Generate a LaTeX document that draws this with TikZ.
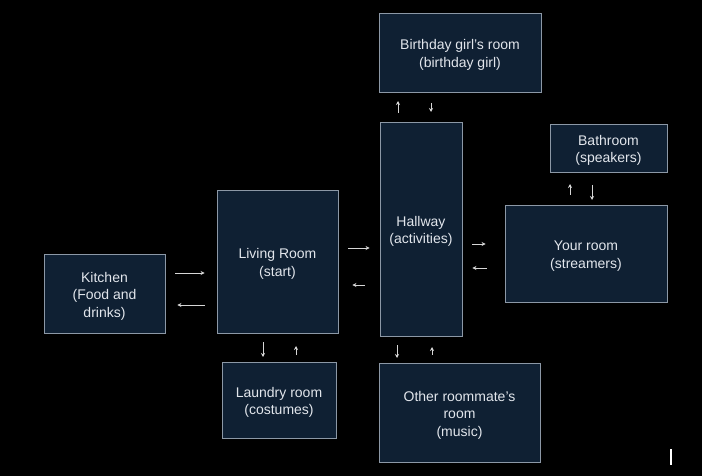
\documentclass[tikz,border=0pt]{standalone}
\usepackage{fontspec}
\setmainfont{Liberation Sans}
\usetikzlibrary{arrows.meta}
\definecolor{boxfill}{HTML}{0F2033}
\definecolor{boxline}{HTML}{8C98A6}
\definecolor{txt}{HTML}{E2E6EC}
\definecolor{arrcol}{HTML}{D6D6D6}
\newcommand\lowerstrut{\rule{0pt}{15pt}}
\tikzset{
  room/.style={draw=boxline, line width=0.9pt, fill=boxfill, text=txt,
    align=center, inner sep=2pt,
    font=\fontsize{14}{17.5}\selectfont},
  arr/.style={draw=arrcol, line width=0.9pt, -{Stealth[length=4pt,width=4pt]}}
}
\begin{document}
\begin{tikzpicture}[x=1pt,y=-1pt]
\fill[black] (0,0) rectangle (702,476);
\useasboundingbox (0,0) rectangle (702,476);

\node[room, minimum width=121pt, minimum height=79pt] (kit) at (104.5,293.5) {\lowerstrut Kitchen\\(Food and\\drinks)};
\node[room, minimum width=121pt, minimum height=143pt] (liv) at (277.5,261.5) {\lowerstrut Living Room\\(start)};
\node[room, minimum width=114pt, minimum height=76pt] (lau) at (279,400) {\lowerstrut Laundry room\\(costumes)};
\node[room, minimum width=82pt, minimum height=214pt] (hal) at (421,229) {\lowerstrut Hallway\\(activities)};
\node[room, minimum width=162pt, minimum height=79pt] (bir) at (460,52.5) {\lowerstrut Birthday girl’s room\\(birthday girl)};
\node[room, minimum width=161pt, minimum height=99pt] (oth) at (459.5,412.5) {\lowerstrut Other roommate’s\\room\\(music)};
\node[room, minimum width=117pt, minimum height=48pt] (bat) at (608.5,148) {\lowerstrut Bathroom\\(speakers)};
\node[room, minimum width=162pt, minimum height=97pt] (you) at (586,253.5) {\lowerstrut Your room\\(streamers)};

% Kitchen <-> Living
\draw[arr] ([xshift=10]kit.east |- 0,273) -- ([xshift=-12]liv.west |- 0,273);
\draw[arr] ([xshift=-12]liv.west |- 0,305) -- ([xshift=12]kit.east |- 0,305);
% Living <-> Hallway
\draw[arr] ([xshift=10]liv.east |- 0,248) -- ([xshift=-10]hal.west |- 0,248);
\draw[arr] ([xshift=-15]hal.west |- 0,285) -- ([xshift=14]liv.east |- 0,285);
% Living <-> Laundry
\draw[arr] (263,342) -- (263,357);
\draw[arr] (296,355) -- (296,346);
% Hallway <-> Birthday
\draw[arr] (398,113) -- (398,101);
\draw[arr] (431,103) -- (431,112);
% Hallway <-> Your room
\draw[arr] ([xshift=10]hal.east |- 0,244) -- ([xshift=-19]you.west |- 0,244);
\draw[arr] ([xshift=-18]you.west |- 0,268) -- ([xshift=10]hal.east |- 0,268);
% Hallway <-> Other
\draw[arr] (397,345) -- (397,358);
\draw[arr] (432,355) -- (432,347);
% Your room <-> Bathroom
\draw[arr] (570,195) -- (570,184);
\draw[arr] (592,185) -- (592,200);

% cursor mark
\fill[white] (669.5,449) rectangle (671.5,465);
\end{tikzpicture}
\end{document}
